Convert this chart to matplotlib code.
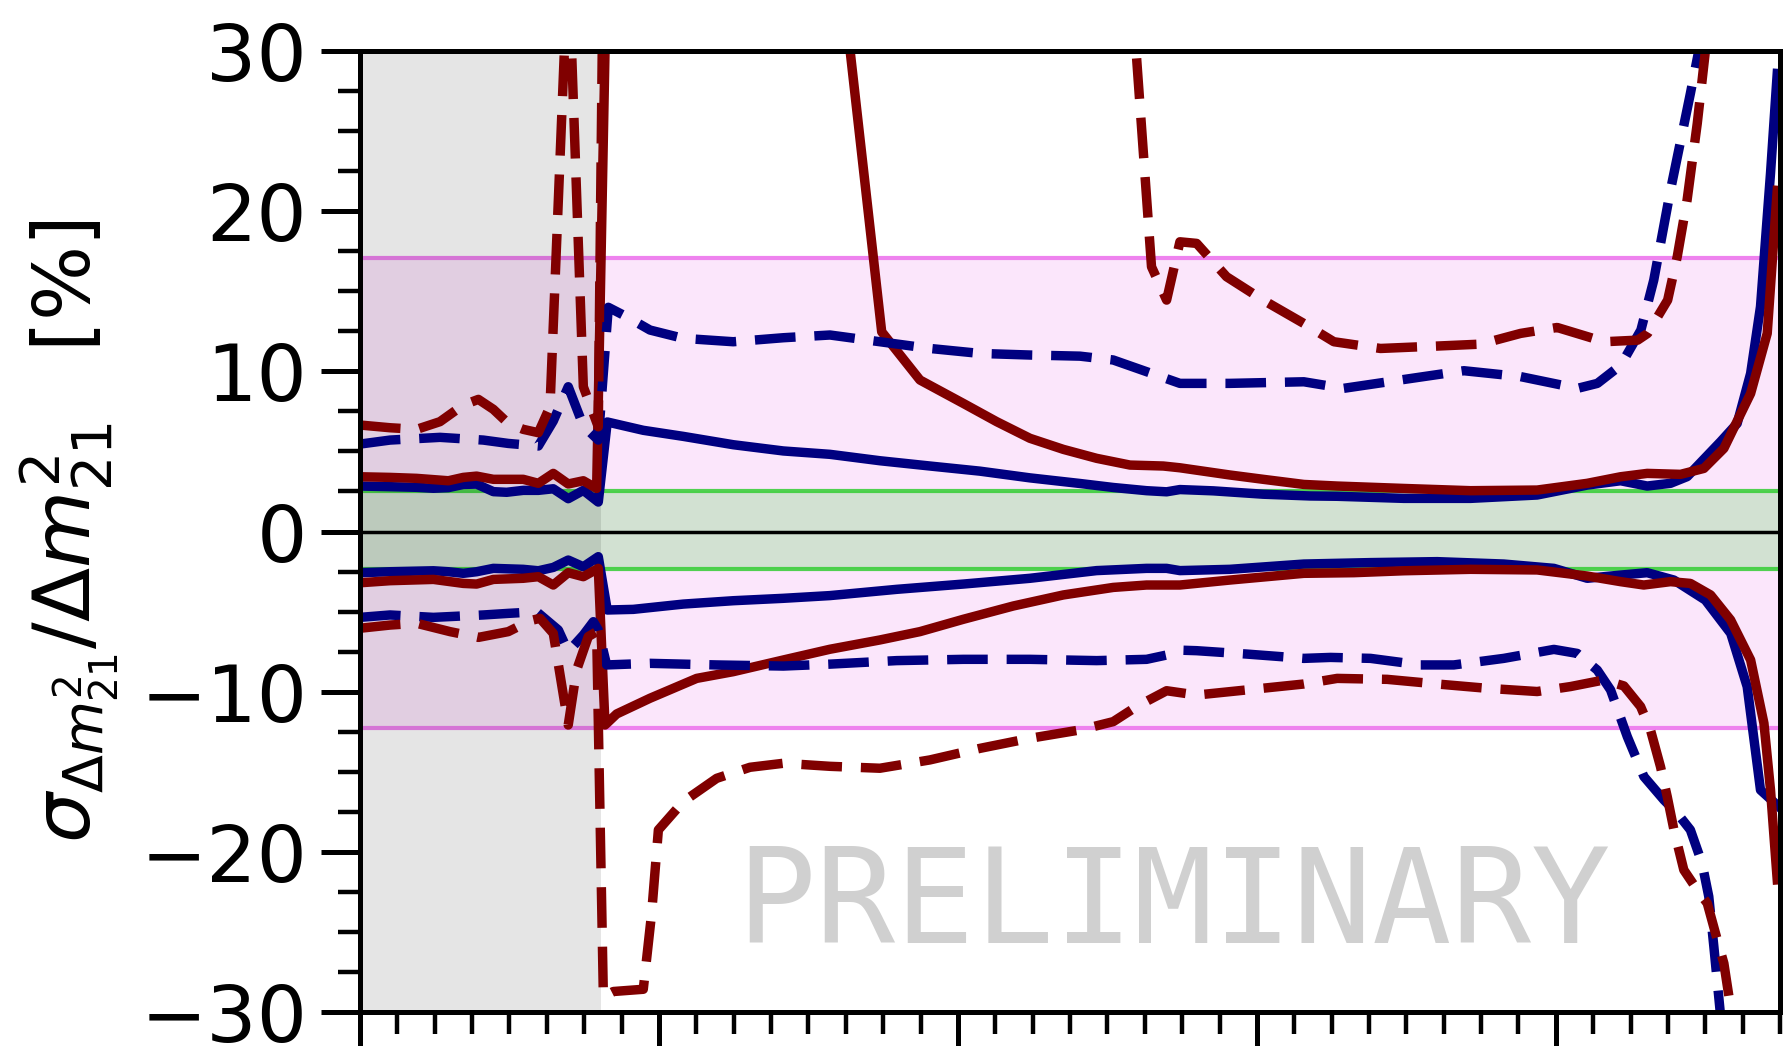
import matplotlib
matplotlib.use("Agg")
import matplotlib.pyplot as plt
from matplotlib.ticker import MultipleLocator

# band limits [%]
green_lo, green_hi = -2.36, 2.53
violet_lo, violet_hi = -12.29, 17.05
gray_hi = 16.1

# navy, solid, upper / lower
nsu_x = [0, 2.01, 3.79, 4.91, 5.91, 6.91, 7.80, 8.92, 9.81, 10.92, 11.93, 12.93, 13.93, 14.94, 15.94,
         16.54, 18.95, 21.63, 24.97, 28.32, 31.44, 34.78, 38.13, 41.47, 44.82, 48.16, 50.39, 52.62,
         53.96, 54.85, 57.08, 60.42, 63.55, 65.37, 69.83, 74.29, 78.75, 82.10, 84.33, 86.11, 87.67,
         88.79, 91.02, 92.13, 93.03, 93.69, 94.36, 94.81]
nsu_y = [2.84, 2.80, 2.76, 2.70, 2.74, 2.94, 2.96, 2.49, 2.45, 2.57, 2.57, 2.67, 2.05, 2.57, 1.84,
         6.84, 6.32, 5.94, 5.42, 5.03, 4.82, 4.42, 4.09, 3.77, 3.35, 3.00, 2.75, 2.55,
         2.48, 2.62, 2.54, 2.33, 2.22, 2.20, 2.07, 2.07, 2.28, 2.90, 3.17, 2.84, 3.01,
         3.43, 5.61, 6.75, 9.87, 14.04, 22.36, 28.6]
nsl_x = [0, 2.01, 4.91, 5.91, 6.91, 7.80, 8.92, 10.92, 11.93, 12.93, 13.93, 14.94, 15.94, 16.54,
         18.28, 21.63, 24.97, 28.32, 31.44, 35.90, 40.36, 44.82, 49.28, 52.62, 53.96, 54.85, 58.19,
         63.14, 67.60, 72.06, 76.52, 79.87, 82.10, 84.33, 86.11, 87.90, 90.0, 91.7, 92.8, 93.69, 94.92]
nsl_y = [-2.57, -2.51, -2.45, -2.51, -2.61, -2.51, -2.30, -2.36, -2.45, -2.24, -1.78, -2.20, -1.57, -4.90,
         -4.86, -4.53, -4.32, -4.17, -4.00, -3.61, -3.28, -2.92, -2.44, -2.30, -2.30, -2.44, -2.36,
         -2.03, -1.94, -1.88, -2.03, -2.30, -2.92, -2.72, -2.57, -3.03, -4.28, -6.36, -9.69, -16.14, -17.18]

# maroon, solid, upper / lower
msu_x = [0, 2.01, 3.79, 5.91, 6.91, 7.80, 8.92, 10.92, 11.93, 12.93, 13.93, 14.94, 15.83, 16.54,
         31.5, 34.90, 37.46, 40.36, 42.59, 44.82, 47.05, 49.28, 51.51, 53.74, 54.85, 58.19, 60.42,
         63.14, 65.37, 69.83, 74.29, 78.75, 82.10, 84.33, 86.11, 88.34, 89.90, 91.24, 93.03, 94.14, 94.81]
msu_y = [3.42, 3.38, 3.32, 3.17, 3.38, 3.46, 3.26, 3.26, 3.01, 3.63, 2.97, 3.17, 2.69, 37.3,
         40.7, 12.47, 9.46, 8.00, 6.86, 5.82, 5.13, 4.57, 4.15, 4.09, 3.98, 3.53, 3.26,
         2.94, 2.84, 2.69, 2.55, 2.59, 3.01, 3.42, 3.63, 3.57, 3.94, 5.19, 8.62, 12.37, 21.3]
msl_x = [0, 2.01, 4.91, 6.91, 7.80, 8.92, 10.92, 11.93, 12.93, 13.93, 14.94, 15.94, 16.39, 17.17,
         19.40, 22.52, 24.97, 28.32, 31.44, 34.78, 37.46, 40.36, 43.70, 47.05, 50.39, 52.62, 54.85,
         58.19, 63.14, 66.49, 69.83, 74.29, 78.75, 82.10, 84.33, 85.88, 87.67, 89.0, 90.35, 91.69,
         93.03, 93.92, 94.36, 94.81]
msl_y = [-3.20, -3.07, -2.99, -3.24, -3.28, -2.99, -2.92, -2.82, -3.34, -2.57, -2.82, -2.30, -12.08, -11.39,
         -10.41, -9.17, -8.75, -8.02, -7.35, -6.77, -6.25, -5.48, -4.65, -3.96, -3.49, -3.34, -3.34,
         -3.03, -2.61, -2.57, -2.45, -2.36, -2.40, -2.78, -3.13, -3.34, -3.13, -3.24, -3.96, -5.52,
         -8.02, -11.97, -16.14, -21.75]

# navy, dashed, upper / lower
ndu_x = [0, 2.01, 5.35, 8.25, 9.92, 11.93, 12.93, 13.93, 14.94, 15.94, 16.61, 17.84, 19.40, 21.63,
         24.97, 28.32, 31.44, 34.78, 38.13, 41.47, 44.82, 48.16, 50.39, 52.62, 54.85, 58.19, 63.14,
         65.80, 69.59, 73.85, 77.65, 81.45, 82.78, 84.35, 85.69, 86.55, 87.67, 89.0, 89.57, 90.0]
ndu_y = [5.46, 5.71, 5.88, 5.71, 5.50, 5.34, 6.90, 9.04, 6.60, 5.71, 14.0, 13.41, 12.58, 12.06,
         11.85, 12.10, 12.27, 11.85, 11.43, 11.12, 11.02, 10.95, 10.71, 9.98, 9.25, 9.25, 9.35,
         8.94, 9.46, 10.04, 9.67, 8.94, 9.25, 10.39, 12.58, 15.70, 21.32, 27.35, 30.06, 33.0]
ndl_x = [0, 2.01, 4.91, 8.25, 9.92, 11.82, 13.27, 13.93, 14.94, 15.61, 15.94, 16.50, 19.40, 23.86,
         28.32, 31.44, 35.90, 40.36, 44.82, 49.28, 52.62, 53.96, 54.63, 55.97, 59.31, 63.14, 64.93,
         67.60, 70.94, 73.17, 76.52, 79.87, 81.43, 82.77, 83.66, 84.78, 85.89, 87.23, 88.12, 89.0,
         89.78, 90.23, 90.57, 91.1]
ndl_y = [-5.36, -5.21, -5.36, -5.21, -5.11, -5.01, -6.15, -7.50, -6.46, -5.63, -6.15, -8.33, -8.23, -8.33,
         -8.40, -8.28, -8.06, -7.98, -7.98, -8.06, -7.98, -7.71, -7.40, -7.44, -7.65, -7.92, -7.86,
         -7.92, -8.33, -8.33, -7.92, -7.36, -7.61, -8.65, -9.89, -12.81, -15.30, -16.76, -17.59, -18.63,
         -20.71, -22.79, -25.92, -31.0]

# maroon, dashed, upper / lower
mdu_x = [0, 2.01, 3.79, 5.35, 6.91, 7.92, 8.92, 9.92, 10.92, 11.93, 12.71, 13.93, 14.94, 15.94,
         16.54, 51.0, 52.95, 53.96, 54.85, 55.97, 57.97, 60.42, 63.14, 65.15, 68.27, 72.06, 74.96,
         77.64, 80.09, 83.24, 85.47, 86.14, 87.48, 88.12, 88.78, 89.46, 90.01, 90.5]
mdu_y = [6.65, 6.48, 6.38, 6.86, 7.90, 8.25, 7.63, 6.75, 6.38, 6.17, 7.79, 36.0, 9.04, 6.54,
         60.0, 42.0, 16.53, 14.45, 18.09, 17.99, 15.91, 14.45, 12.99, 11.85, 11.43, 11.58, 11.70,
         12.37, 12.74, 11.85, 11.95, 12.37, 14.45, 17.16, 20.70, 25.48, 30.06, 38.0]
mdl_x = [0, 2.01, 3.79, 6.02, 7.92, 9.92, 11.37, 12.04, 12.93, 13.93, 14.49, 15.27, 15.83, 16.28,
         16.95, 18.95, 19.51, 19.96, 21.63, 23.86, 26.09, 28.32, 31.44, 34.78, 38.13, 41.47, 44.82,
         48.16, 50.39, 51.95, 53.96, 55.97, 59.31, 63.14, 65.37, 68.72, 72.06, 75.41, 78.75, 80.98,
         83.21, 84.55, 85.67, 86.33, 87.0, 87.45, 87.90, 88.56, 89.46, 90.13, 90.80, 91.24, 91.9]
mdl_y = [-6.04, -5.84, -5.73, -6.25, -6.61, -6.25, -5.57, -5.42, -6.36, -12.08, -8.65, -6.56, -6.25, -29.04,
         -28.72, -28.58, -23.83, -18.63, -16.86, -15.41, -14.72, -14.47, -14.66, -14.78, -14.26, -13.54, -12.91,
         -12.39, -11.87, -10.93, -9.94, -10.21, -9.89, -9.52, -9.17, -9.23, -9.52, -9.79, -9.99, -9.68,
         -9.27, -9.64, -10.93, -12.39, -14.68, -16.55, -18.63, -21.13, -22.38, -23.21, -25.50, -26.96, -31.0]

fig = plt.figure(figsize=(17.84, 10.46), dpi=100)
ax = fig.add_axes([0.2018, 0.0325, 0.7960, 0.9187])

# bands
ax.axhspan(violet_lo, violet_hi, color="violet", alpha=0.2, lw=0, zorder=1)
ax.axhspan(green_lo, green_hi, color="limegreen", alpha=0.2, lw=0, zorder=1.05)
for v in (violet_lo, violet_hi):
    ax.axhline(v, color="violet", lw=3, zorder=1.2)
for v in (green_lo, green_hi):
    ax.axhline(v, color="limegreen", lw=3, alpha=0.85, zorder=1.2)
ax.axvspan(0, gray_hi, color="k", alpha=0.1, lw=0, zorder=1.5)
ax.axhline(0, color="k", lw=2.5, zorder=1.6)

lw = 6.8
dash = (0, (4.3, 2.0))
ax.plot(nsu_x, nsu_y, color="navy", lw=lw, zorder=3)
ax.plot(nsl_x, nsl_y, color="navy", lw=lw, zorder=3)
ax.plot(msu_x, msu_y, color="maroon", lw=lw, zorder=3.1)
ax.plot(msl_x, msl_y, color="maroon", lw=lw, zorder=3.1)
ax.plot(ndu_x, ndu_y, color="navy", lw=lw, ls=dash, zorder=3.2)
ax.plot(ndl_x, ndl_y, color="navy", lw=lw, ls=dash, zorder=3.2)
ax.plot(mdu_x, mdu_y, color="maroon", lw=lw, ls=dash, zorder=3.3)
ax.plot(mdl_x, mdl_y, color="maroon", lw=lw, ls=dash, zorder=3.3)

ax.text(54.4, -25.67, "PRELIMINARY", family="DejaVu Sans Mono", fontsize=95,
        color="#d0d0d0", ha="center", va="baseline", zorder=2)

ax.set_xlim(0, 95)
ax.set_ylim(-30, 30)
ax.xaxis.set_major_locator(MultipleLocator(20))
ax.xaxis.set_minor_locator(MultipleLocator(2.5))
ax.yaxis.set_major_locator(MultipleLocator(10))
ax.yaxis.set_minor_locator(MultipleLocator(2.5))
ax.tick_params(which="major", length=28, width=3.6, labelsize=57, pad=10)
ax.tick_params(which="minor", length=16, width=3.2)
ax.tick_params(axis="x", labelbottom=False)
for s in ax.spines.values():
    s.set_linewidth(3.6)
    s.set_zorder(4)

ax.set_ylabel("$\\sigma_{\\Delta m^2_{21}}/\\Delta m^2_{21}$  \u2009[%]", fontsize=57, labelpad=14)

fig.savefig("out.png", dpi=100)
